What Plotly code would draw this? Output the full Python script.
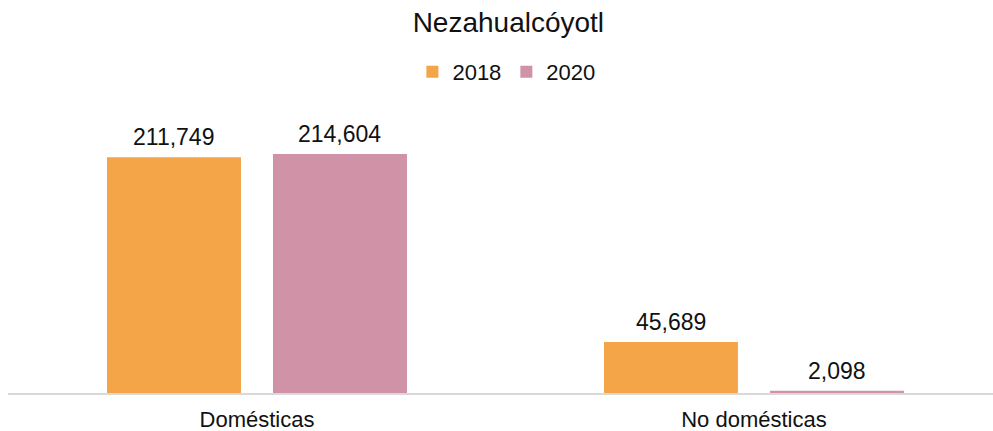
import plotly.graph_objects as go

categories = ["Domésticas", "No domésticas"]
years = ["2018", "2020"]
values_2018 = [211749, 45689]
values_2020 = [214604, 2098]
colors = {"2018": "#F3A548", "2020": "#D092A7"}

series = {"2018": values_2018, "2020": values_2020}

FONT = "Liberation Sans, Arial, sans-serif"
TEXT_COLOR = "#111111"

fig = go.Figure()
for yr in years:
    fig.add_trace(go.Bar(
        name=yr,
        x=list(range(len(categories))),
        y=series[yr],
        marker=dict(color=colors[yr], line=dict(width=0)),
    ))

# value labels above each bar (grouped bar offsets in category units)
bargap = 0.332
slot = (1 - bargap) / 2
offsets = {"2018": -slot / 2, "2020": slot / 2}
for yr in years:
    for i, v in enumerate(series[yr]):
        fig.add_annotation(
            x=i + offsets[yr], y=v, xref="x", yref="y",
            text=f"{v:,}", showarrow=False,
            yanchor="bottom", yshift=5,
            font=dict(family=FONT, size=23, color=TEXT_COLOR),
        )

fig.update_layout(
    width=993, height=431,
    margin=dict(l=8, r=0, t=100, b=38),
    paper_bgcolor="white", plot_bgcolor="white",
    barmode="group", bargap=bargap, bargroupgap=0.193,
    title=dict(text="Nezahualcóyotl", x=0.508, xanchor="center",
               y=1 - 22 / 431, yanchor="middle", xref="paper",
               font=dict(family=FONT, size=28, color=TEXT_COLOR)),
    legend=dict(orientation="h", x=0.506, xanchor="center",
                y=1 + 28 / 293, yanchor="middle",
                font=dict(family=FONT, size=22, color=TEXT_COLOR),
                itemwidth=30, tracegroupgap=0, traceorder="normal"),
    showlegend=True,
    xaxis=dict(
        tickmode="array", tickvals=list(range(len(categories))),
        ticktext=categories,
        range=[-0.501, 1.481],
        showline=True, linecolor="#d9d9d9", linewidth=1.5,
        showgrid=False, zeroline=False, ticks="",
        ticklabelstandoff=6,
        tickfont=dict(family=FONT, size=22, color=TEXT_COLOR),
        fixedrange=True,
    ),
    yaxis=dict(
        range=[0, 263090], visible=False, showgrid=False, zeroline=False,
        fixedrange=True,
    ),
)

fig.write_html("out.html")
